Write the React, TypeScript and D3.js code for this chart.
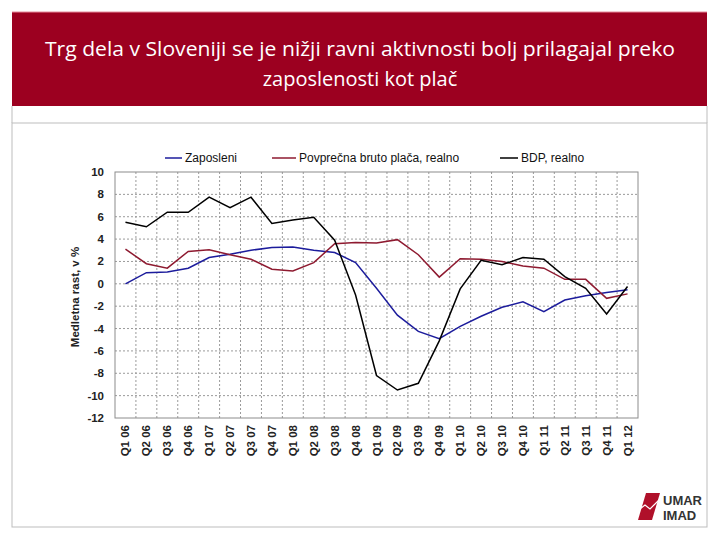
import React, { useEffect } from "react";
import * as d3 from "d3";

// četrtletja
const quarters = [
  "Q1 06", "Q2 06", "Q3 06", "Q4 06",
  "Q1 07", "Q2 07", "Q3 07", "Q4 07",
  "Q1 08", "Q2 08", "Q3 08", "Q4 08",
  "Q1 09", "Q2 09", "Q3 09", "Q4 09",
  "Q1 10", "Q2 10", "Q3 10", "Q4 10",
  "Q1 11", "Q2 11", "Q3 11", "Q4 11",
  "Q1 12",
];

const zaposleni = [
  0.0, 1.0, 1.05, 1.4, 2.35, 2.65, 3.0, 3.25, 3.3, 3.0, 2.8, 1.9,
  -0.4, -2.8, -4.25, -4.9, -3.8, -2.9, -2.1, -1.6, -2.5, -1.45, -1.07, -0.78, -0.54,
];

const placa = [
  3.1, 1.8, 1.4, 2.9, 3.05, 2.6, 2.2, 1.3, 1.15, 1.9, 3.58, 3.7,
  3.65, 3.95, 2.6, 0.6, 2.24, 2.2, 2.0, 1.6, 1.4, 0.4, 0.4, -1.3, -0.9,
];

const bdp = [
  5.5, 5.1, 6.4, 6.4, 7.75, 6.8, 7.75, 5.4, 5.7, 5.95, 3.9, -1.0,
  -8.2, -9.5, -8.9, -5.1, -0.45, 2.1, 1.7, 2.35, 2.2, 0.65, -0.4, -2.7, -0.24,
];

const yTicks = [-12, -10, -8, -6, -4, -2, 0, 2, 4, 6, 8, 10];

const series = [
  { name: "Zaposleni", values: zaposleni, color: "#1c1c9c" },
  { name: "Povprečna bruto plača, realno", values: placa, color: "#8e1a30" },
  { name: "BDP, realno", values: bdp, color: "#000000" },
];

// legenda: začetek in konec črte
const legendLines = [
  [165, 182],
  [272, 296],
  [500, 518],
];

const W = 720;
const H = 540;
const plot = { left: 115, right: 638, top: 172, bottom: 418 };
const axisFont = "Liberation Sans, Arial, sans-serif";

export default function App() {
  useEffect(() => {
    document.body.style.margin = "0";
  }, []);

  const x = d3
    .scaleBand<string>()
    .domain(quarters)
    .range([plot.left, plot.right]);
  const cx = (q: string) => (x(q) ?? 0) + x.bandwidth() / 2;

  const y = d3
    .scaleLinear()
    .domain([-12, 10])
    .range([plot.bottom, plot.top]);

  const line = d3
    .line<number>()
    .x((_, i) => cx(quarters[i]))
    .y((d) => y(d));

  return (
    <svg width={W} height={H} style={{ display: "block" }}>
      <rect width={W} height={H} fill="#fff" />
      {/* okvir prosojnice */}
      <rect x={12} y={123} width={695} height={404} fill="none" stroke="#bdbdbd" strokeWidth={1} />
      <line x1={12} x2={12} y1={106} y2={123} stroke="#bdbdbd" />
      <line x1={707} x2={707} y1={106} y2={123} stroke="#bdbdbd" />
      <rect x={12} y={12} width={695} height={94} fill="#9c0020" />
      <line x1={12} y1={12} x2={707} y2={12} stroke="#e58a9a" strokeWidth={1} />
      <text
        x={360}
        y={56}
        textAnchor="middle"
        fill="#fff"
        fontSize={20}
        fontFamily="Open Sans, sans-serif"
        textLength={630}
        lengthAdjust="spacingAndGlyphs"
      >
        Trg dela  v Sloveniji se je nižji ravni aktivnosti bolj prilagajal preko
      </text>
      <text x={360} y={86} textAnchor="middle" fill="#fff" fontSize={20} fontFamily="Open Sans, sans-serif">
        zaposlenosti kot plač
      </text>

      {/* mreža */}
      <g stroke="#9a9a9a" strokeWidth={1} strokeDasharray="2,2">
        {yTicks.slice(1, -1).map((t) => (
          <line key={"h" + t} x1={plot.left} x2={plot.right} y1={y(t)} y2={y(t)} />
        ))}
        {quarters.slice(1).map((q) => (
          <line key={"v" + q} x1={x(q)} x2={x(q)} y1={plot.top} y2={plot.bottom} />
        ))}
      </g>
      <rect
        x={plot.left}
        y={plot.top}
        width={plot.right - plot.left}
        height={plot.bottom - plot.top}
        fill="none"
        stroke="#8c8c8c"
      />

      {/* osi */}
      <g fontFamily={axisFont} fontSize={11.5} fontWeight="bold" fill="#222">
        {yTicks.map((t) => (
          <text key={t} x={104} y={y(t) + 4} textAnchor="end">
            {t}
          </text>
        ))}
        {quarters.map((q) => (
          <text
            key={q}
            transform={`translate(${cx(q) + 4},${plot.bottom + 7}) rotate(-90)`}
            textAnchor="end"
          >
            {q}
          </text>
        ))}
        <text transform="translate(79,297) rotate(-90)" textAnchor="middle">
          Medletna rast, v %
        </text>
      </g>

      {/* črte */}
      {series.map((s) => (
        <path key={s.name} d={line(s.values) ?? ""} fill="none" stroke={s.color} strokeWidth={1.5} />
      ))}

      {/* legenda */}
      <g fontFamily={axisFont} fontSize={12} fill="#111">
        {series.map((s, i) => (
          <g key={s.name}>
            <line
              x1={legendLines[i][0]}
              x2={legendLines[i][1]}
              y1={158}
              y2={158}
              stroke={s.color}
              strokeWidth={1.5}
            />
            <text x={legendLines[i][1] + 3} y={162}>
              {s.name}
            </text>
          </g>
        ))}
      </g>

      {/* logo */}
      <g>
        <path d="M646,493 L660,493 L652,520 L638,520 Z" fill="#b0102a" />
        <path d="M636,512 L645,505 L650,509 L661,498" fill="none" stroke="#fff" strokeWidth={1.2} />
        <text x={663} y={505} fontFamily={axisFont} fontWeight="bold" fontSize={13} fill="#333">
          UMAR
        </text>
        <text x={663} y={520} fontFamily={axisFont} fontWeight="bold" fontSize={13} fill="#333">
          IMAD
        </text>
      </g>
    </svg>
  );
}
